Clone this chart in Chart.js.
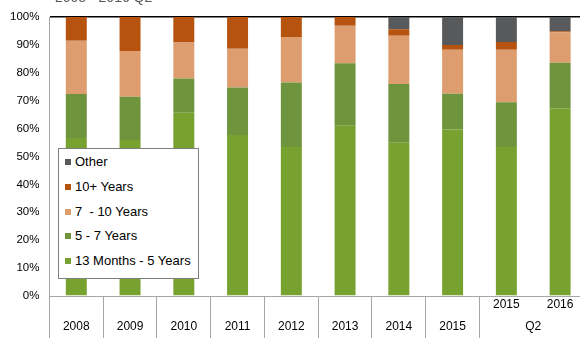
<!DOCTYPE html>
<html>
<head>
<meta charset="utf-8">
<script src="https://cdn.jsdelivr.net/npm/chart.js@4/dist/chart.umd.min.js"></script>
<style>
  html, body { margin: 0; padding: 0; background: #fff; overflow: hidden; }
  #wrap { position: relative; width: 590px; height: 338px; }
  #legend {
    position: absolute; left: 58px; top: 148px; width: 141px; height: 131px;
    box-sizing: border-box; border: 1px solid #7f7f7f; background: #fff;
    font: 13px "Liberation Sans", Arial, sans-serif; color: #000; padding-top: 1px;
  }
  #legend div { height: 24.8px; line-height: 24.8px; white-space: pre; }
  #legend span { display: inline-block; width: 6px; height: 6px; margin: 0 4px 0 6px; vertical-align: 1px; }
</style>
</head>
<body>
<div id="wrap">
  <canvas id="chart" width="590" height="338"></canvas>
  <div id="legend"></div>
</div>
<script>
const titleText = '2008 - 2016 Q2';
const categories = ['2008', '2009', '2010', '2011', '2012', '2013', '2014', '2015', '2015', '2016'];
const groupLabel = 'Q2';

const seriesNames = ['13 Months - 5 Years', '5 - 7 Years', '7  - 10 Years', '10+ Years', 'Other'];
const seriesColors = ['#77a22f', '#6f943e', '#de9d6f', '#b5530f', '#58595b'];

const months13to5 = [56.6, 55.9, 65.7, 57.7, 53.4, 61.0, 54.9, 59.7, 53.4, 67.3];
const years5to7   = [15.8, 15.5, 12.3, 17.0, 23.1, 22.4, 21.1, 12.8, 16.0, 16.3];
const years7to10  = [19.1, 16.4, 12.9, 13.9, 16.3, 13.5, 17.3, 15.8, 18.9, 10.9];
const years10plus = [8.5, 12.2, 9.1, 11.4, 7.2, 3.1, 2.3, 1.7, 2.7, 0.4];
const other       = [0, 0, 0, 0, 0, 0, 4.4, 10.0, 9.0, 5.1];

const seriesValues = [months13to5, years5to7, years7to10, years10plus, other];

// first eight years sit on the lower line, the Q2 pair on the upper line
const labels = categories.map((c, i) => i < 8 ? ['', c] : [c, '']);

const datasets = seriesNames.map((name, i) => ({
  label: name,
  data: seriesValues[i],
  backgroundColor: seriesColors[i],
  barPercentage: 0.39,
  categoryPercentage: 1.0
}));

const extraText = {
  id: 'extraText',
  afterDraw(chart) {
    const { ctx } = chart;
    const x = chart.scales.x;
    ctx.save();
    ctx.fillStyle = '#000';
    ctx.font = '12px "Liberation Sans", Arial, sans-serif';
    ctx.textAlign = 'center';
    ctx.textBaseline = 'middle';
    const q2x = (x.getPixelForValue(8) + x.getPixelForValue(9)) / 2;
    ctx.fillText(groupLabel, q2x, x.bottom - 11);

    ctx.fillStyle = '#595959';
    ctx.font = '14px "Liberation Sans", Arial, sans-serif';
    ctx.textAlign = 'left';
    ctx.textBaseline = 'alphabetic';
    ctx.fillText(titleText, 55, 2);
    ctx.restore();
  }
};

new Chart(document.getElementById('chart'), {
  type: 'bar',
  data: { labels: labels, datasets: datasets },
  options: {
    responsive: false,
    animation: false,
    layout: { padding: { left: 0, top: 17, right: 3, bottom: 0 } },
    plugins: {
      legend: { display: false },
      tooltip: { enabled: false }
    },
    scales: {
      x: {
        stacked: true,
        afterFit: scale => { scale.height = 42; },
        border: { color: '#a6a6a6' },
        grid: {
          offset: true,
          drawOnChartArea: false,
          drawTicks: true,
          tickLength: 42,
          color: ctx => ctx.index === 9 ? 'rgba(0,0,0,0)' : '#a6a6a6'
        },
        ticks: {
          padding: -44,
          autoSkip: false,
          maxRotation: 0,
          color: '#000',
          font: { family: '"Liberation Sans", Arial, sans-serif', size: 12, lineHeight: 1.833 }
        }
      },
      y: {
        stacked: true,
        min: 0,
        max: 100,
        border: { color: '#a6a6a6' },
        grid: {
          drawTicks: false,
          lineWidth: 1.5,
          color: ctx => ctx.tick && ctx.tick.value === 100 ? '#000' : 'rgba(0,0,0,0)'
        },
        ticks: {
          stepSize: 10,
          padding: 10,
          color: '#000',
          font: { family: '"Liberation Sans", Arial, sans-serif', size: 11.5 },
          callback: v => v + '%'
        }
      }
    }
  },
  plugins: [extraText]
});

// legend box inside the plot, listed top segment first
const legend = document.getElementById('legend');
for (let i = seriesNames.length - 1; i >= 0; i--) {
  const row = document.createElement('div');
  const sw = document.createElement('span');
  sw.style.background = seriesColors[i];
  row.appendChild(sw);
  row.appendChild(document.createTextNode(seriesNames[i]));
  legend.appendChild(row);
}
</script>
</body>
</html>
